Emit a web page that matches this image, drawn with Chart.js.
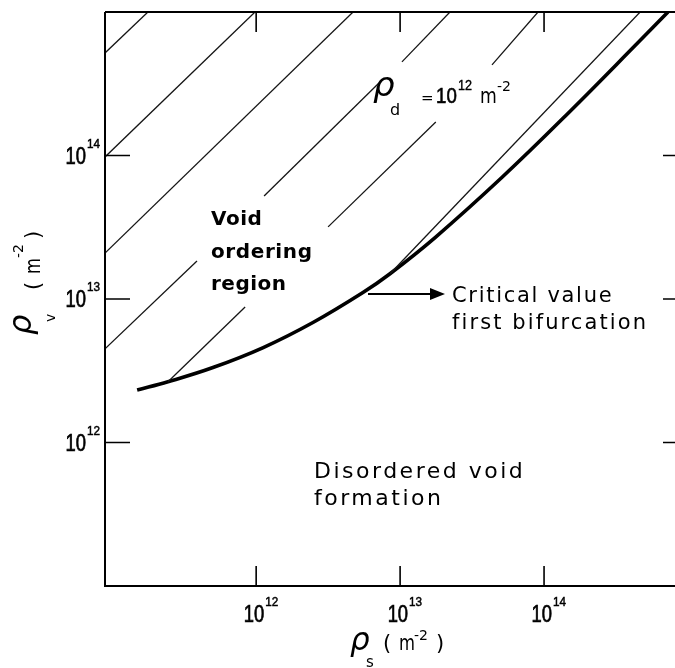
<!DOCTYPE html>
<html>
<head>
<meta charset="utf-8">
<script src="https://cdn.jsdelivr.net/npm/chart.js@4.4.1/dist/chart.umd.min.js"></script>
<style>
html,body{margin:0;padding:0;background:#fff;overflow:hidden;}
#wrap{width:700px;height:668px;}
</style>
</head>
<body>
<div id="wrap"><canvas id="voidChart" width="700" height="668"></canvas></div>
<script>
// critical value of first bifurcation (rho_s, rho_v), m^-2
const curveS = [1.49e11, 2.44e11, 5.01e11, 1.12e12, 2.48e12, 5.52e12, 8.51e12, 1.75e13, 5.11e13, 1.47e14, 4.50e14, 7.26e14];
const curveV = [2.32e12, 2.65e12, 3.33e12, 4.59e12, 6.86e12, 1.11e13, 1.50e13, 2.68e13, 7.05e13, 1.97e14, 6.12e14, 1.00e15];

// hatching of the void ordering region, one pair of end points per piece
const hatchS = [
  [8.91e10, 1.77e11],
  [8.91e10, 9.82e11],
  [8.91e10, 4.71e12],
  [8.91e10, 3.88e11],
  [1.135e12, 7.13e12],
  [1.03e13, 2.22e13],
  [2.44e11, 8.38e11],
  [3.16e12, 1.77e13],
  [4.35e13, 9.08e13],
  [8.51e12, 4.65e14]
];
const hatchV = [
  [5.18e14, 1.00e15],
  [9.77e13, 1.00e15],
  [2.09e13, 1.00e15],
  [4.49e12, 1.84e13],
  [5.22e13, 3.20e14],
  [4.49e14, 1.00e15],
  [2.65e12, 8.79e12],
  [3.18e13, 1.71e14],
  [4.28e14, 1.00e15],
  [1.50e13, 1.00e15]
];

const xTicks = [1e12, 1e13, 1e14];
const xTickExp = ['12', '13', '14'];
const yTicks = [1e12, 1e13, 1e14];
const yTickExp = ['12', '13', '14'];

const arial = '"Liberation Sans", Arial, sans-serif';
const sans = '"DejaVu Sans", sans-serif';

let datasets = [];

hatchS.forEach((seg, i) => {
  datasets.push({
    data: [{x: seg[0], y: hatchV[i][0]}, {x: seg[1], y: hatchV[i][1]}],
    borderColor: '#151515',
    borderWidth: 1.3,
    pointRadius: 0
  });
});

datasets.push({
  data: curveS.map((s, i) => ({x: s, y: curveV[i]})),
  borderColor: '#000',
  borderWidth: 3.6,
  pointRadius: 0,
  tension: 0.4
});

// draws a string, optionally squeezed (sx) and thickened (stroke)
function txt(ctx, s, x, y, font, opt){
  opt = opt || {};
  ctx.save();
  ctx.font = font;
  ctx.letterSpacing = (opt.sp || 0) + 'px';
  ctx.textAlign = opt.align || 'left';
  ctx.translate(x, y);
  ctx.scale(opt.sx || 1, 1);
  ctx.fillText(s, 0, 0);
  if(opt.stroke){
    ctx.lineWidth = opt.stroke;
    ctx.strokeText(s, 0, 0);
  }
  ctx.restore();
}

const framePlugin = {
  id: 'frame',
  afterDraw(chart){
    const ctx = chart.ctx;
    const a = chart.chartArea;
    const xs = chart.scales.x, ys = chart.scales.y;
    ctx.save();
    ctx.strokeStyle = '#000';
    ctx.fillStyle = '#000';
    ctx.textBaseline = 'alphabetic';

    // frame: left, bottom, top
    ctx.lineWidth = 2;
    ctx.beginPath();
    ctx.moveTo(a.left, a.top); ctx.lineTo(a.left, a.bottom); ctx.lineTo(a.right, a.bottom);
    ctx.moveTo(a.left, a.top); ctx.lineTo(a.right, a.top);
    ctx.stroke();

    // inward ticks
    ctx.lineWidth = 1.6;
    ctx.beginPath();
    yTicks.forEach(v => {
      let py = ys.getPixelForValue(v);
      ctx.moveTo(a.left, py); ctx.lineTo(a.left + 25, py);
      ctx.moveTo(a.right - 25, py); ctx.lineTo(a.right, py);
    });
    xTicks.forEach(v => {
      let px = xs.getPixelForValue(v);
      ctx.moveTo(px, a.bottom); ctx.lineTo(px, a.bottom - 20);
      ctx.moveTo(px, a.top); ctx.lineTo(px, a.top + 20);
    });
    ctx.stroke();

    // tick labels
    const big = '23px ' + arial, sup = '13px ' + arial;
    xTicks.forEach((v, i) => {
      let px = xs.getPixelForValue(v);
      txt(ctx, '10', px + 8, a.bottom + 36, big, {align: 'right', sx: 0.8, stroke: 0.7});
      txt(ctx, xTickExp[i], px + 9, a.bottom + 20, sup, {sx: 0.9, stroke: 0.5});
    });
    yTicks.forEach((v, i) => {
      let py = ys.getPixelForValue(v);
      txt(ctx, '10', a.left - 19, py + 8, big, {align: 'right', sx: 0.8, stroke: 0.7});
      txt(ctx, yTickExp[i], a.left - 18, py - 8, sup, {sx: 0.9, stroke: 0.5});
    });

    // x axis title
    txt(ctx, 'ρ', 350, 650, 'italic 31px ' + sans);
    txt(ctx, 's', 366, 667, '15px ' + sans);
    txt(ctx, '(', 383, 650, '21px ' + sans);
    txt(ctx, 'm', 399, 650, '21px ' + sans, {sx: 0.78});
    txt(ctx, '-2', 414, 640, '14px ' + sans);
    txt(ctx, ')', 436, 650, '21px ' + sans);

    // y axis title (rotated)
    ctx.save();
    ctx.translate(40, 0);
    ctx.rotate(-Math.PI / 2);
    txt(ctx, 'ρ', -335, -9, 'italic 32px ' + sans);
    txt(ctx, 'v', -322, 15, '14px ' + sans);
    txt(ctx, '(', -290, 0, '21px ' + sans);
    txt(ctx, 'm', -274, 0, '21px ' + sans, {sx: 0.78});
    txt(ctx, '-2', -258, -17, '14px ' + sans);
    txt(ctx, ')', -239, 0, '21px ' + sans);
    ctx.restore();

    // region labels
    const bold = 'bold 20px ' + sans;
    txt(ctx, 'Void', 211, 225, bold, {sp: 0.5});
    txt(ctx, 'ordering', 211, 258, bold, {sp: 0.6});
    txt(ctx, 'region', 211, 290, bold, {sp: 0.5});

    txt(ctx, 'Disordered void', 314, 478, '22px ' + sans, {sp: 2.5});
    txt(ctx, 'formation', 314, 505, '22px ' + sans, {sp: 2.5});
    txt(ctx, 'Critical value', 452, 302, '21px ' + sans, {sp: 1.7});
    txt(ctx, 'first bifurcation', 452, 329, '21px ' + sans, {sp: 2.1});

    // rho_d label
    txt(ctx, 'ρ', 373, 96, 'italic 34px ' + sans);
    txt(ctx, 'd', 390, 115, '16px ' + sans);
    txt(ctx, '=', 421, 103, '15px ' + sans);
    txt(ctx, '10', 436, 103, '22px ' + arial, {sx: 0.85, stroke: 0.6});
    txt(ctx, '12', 458, 90, '14px ' + arial, {sx: 0.9, stroke: 0.4});
    txt(ctx, 'm', 480, 103, '21px ' + sans, {sx: 0.82});
    txt(ctx, '-2', 497, 91, '14px ' + sans);

    // arrow to the critical curve label
    ctx.lineWidth = 2.2;
    ctx.beginPath();
    ctx.moveTo(368, 294); ctx.lineTo(432, 294);
    ctx.stroke();
    ctx.beginPath();
    ctx.moveTo(430, 288); ctx.lineTo(445, 294); ctx.lineTo(430, 300);
    ctx.closePath();
    ctx.fill();

    ctx.restore();
  }
};

new Chart(document.getElementById('voidChart'), {
  type: 'line',
  data: {datasets: datasets},
  options: {
    responsive: false,
    animation: false,
    devicePixelRatio: 1,
    layout: {padding: {left: 105, top: 12, right: 12, bottom: 82}},
    plugins: {legend: {display: false}, tooltip: {enabled: false}},
    scales: {
      x: {type: 'logarithmic', min: 8.91e10, max: 1e15, display: false},
      y: {type: 'logarithmic', min: 1e11, max: 1e15, display: false}
    }
  },
  plugins: [framePlugin]
});
</script>
</body>
</html>
